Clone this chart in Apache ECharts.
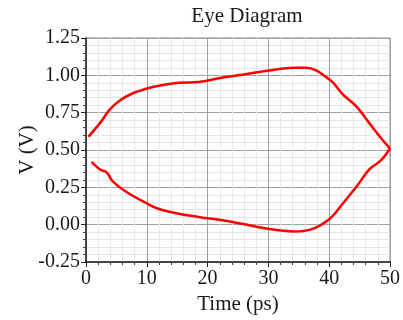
<!DOCTYPE html>
<html><head><meta charset="utf-8">
<script src="https://cdn.jsdelivr.net/npm/echarts@6/dist/echarts.min.js"></script>
<style>html,body{margin:0;padding:0;background:#fff}#c{width:403px;height:320px}</style>
</head><body><div id="c"></div>
<script>
const upperT = [0.4, 2.3, 3.9, 5.5, 7.7, 9.9, 12, 15.3, 18.5, 21.8, 25, 29.9, 34.2, 36.1, 40.1, 42.3, 44.5, 46.6, 48.5, 50];
const upperV = [0.59, 0.68, 0.77, 0.83, 0.88, 0.91, 0.93, 0.95, 0.955, 0.98, 1.0, 1.03, 1.05, 1.05, 0.97, 0.87, 0.79, 0.68, 0.58, 0.51];
const lowerT = [0.9, 2.3, 3.4, 4.4, 6.6, 9.9, 12, 15.3, 18.5, 23.9, 29.9, 34.2, 36.9, 40.1, 42.3, 44.5, 46.6, 48.5, 50];
const lowerV = [0.42, 0.37, 0.35, 0.29, 0.22, 0.145, 0.105, 0.073, 0.052, 0.02, -0.027, -0.045, -0.033, 0.04, 0.145, 0.255, 0.37, 0.43, 0.51];
const xTicks = [0, 10, 20, 30, 40, 50];
const yTicks = [-0.25, 0, 0.25, 0.5, 0.75, 1.0, 1.25];

const font = 'Liberation Serif';
const chart = echarts.init(document.getElementById('c'));
const pair = (a, b) => a.map((v, i) => [v, b[i]]);
chart.setOption({
  animation: false,
  title: { text: 'Eye Diagram', left: 242, top: 1, textAlign: 'center',
    textStyle: { fontFamily: font, fontSize: 21, fontWeight: 'normal', color: '#1a1a1a' } },
  grid: { left: 86, right: 9, top: 38, bottom: 57, show: true, borderColor: '#888', borderWidth: 1 },
  xAxis: {
    type: 'value', min: xTicks[0], max: xTicks[xTicks.length - 1], interval: 10,
    name: 'Time (ps)', nameLocation: 'middle', nameGap: 32, nameMoveOverlap: false,
    nameTextStyle: { fontFamily: font, fontSize: 21, color: '#1a1a1a' },
    axisLine: { show: true, onZero: false, lineStyle: { color: '#222', width: 1.5 } },
    axisTick: { show: true, length: 5, lineStyle: { color: '#222' } },
    minorTick: { show: true, splitNumber: 5, length: 3, lineStyle: { color: '#444' } },
    axisLabel: { fontFamily: font, fontSize: 20, color: '#1a1a1a', margin: 7 },
    splitLine: { show: true, lineStyle: { color: '#a0a0a0' } },
    minorSplitLine: { show: true, lineStyle: { color: '#e6e6e6' } }
  },
  yAxis: {
    type: 'value', min: yTicks[0], max: yTicks[yTicks.length - 1], interval: 0.25,
    name: 'V (V)', nameLocation: 'middle', nameGap: 48, nameRotate: 90, nameMoveOverlap: false,
    nameTextStyle: { fontFamily: font, fontSize: 21, color: '#1a1a1a' },
    axisLine: { show: true, onZero: false, lineStyle: { color: '#222', width: 1.5 } },
    axisTick: { show: true, length: 5, lineStyle: { color: '#222' } },
    minorTick: { show: true, splitNumber: 5, length: 3, lineStyle: { color: '#444' } },
    axisLabel: { fontFamily: font, fontSize: 20, color: '#1a1a1a', margin: 6,
      formatter: v => v.toFixed(2) },
    splitLine: { show: true, lineStyle: { color: '#a0a0a0' } },
    minorSplitLine: { show: true, lineStyle: { color: '#e6e6e6' } }
  },
  series: [
    { type: 'line', data: pair(upperT, upperV), smooth: 0.4, showSymbol: false,
      lineStyle: { color: '#ff0000', width: 2.5 } },
    { type: 'line', data: pair(lowerT, lowerV), smooth: 0.4, showSymbol: false,
      lineStyle: { color: '#ff0000', width: 2.5 } }
  ]
});
</script></body></html>
